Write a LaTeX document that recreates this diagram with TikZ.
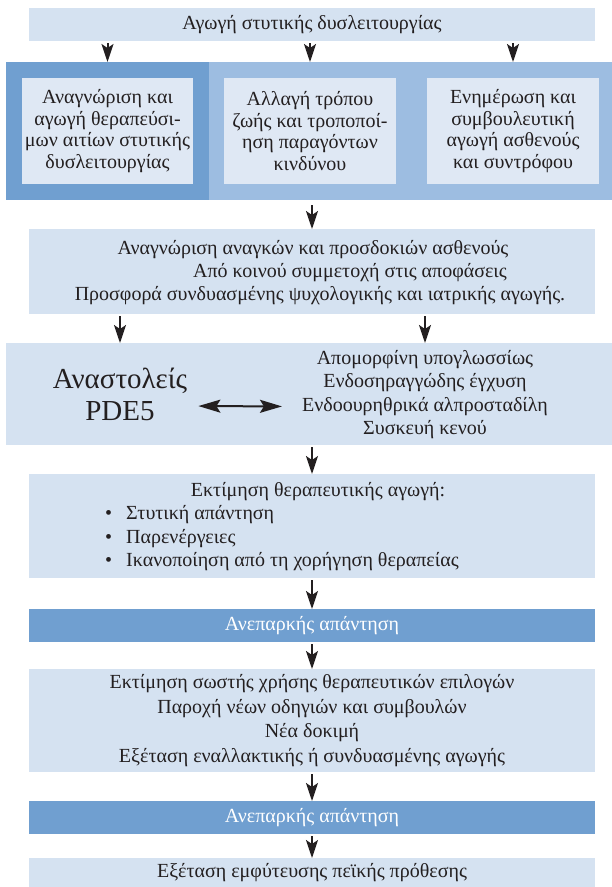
\documentclass[tikz,border=0pt]{standalone}
\usepackage{fontspec}
\setmainfont{Liberation Serif}
\usetikzlibrary{arrows.meta,calc}
\definecolor{lightbox}{HTML}{D5E2F1}
\definecolor{innerbox}{HTML}{DFE8F4}
\definecolor{darkbar}{HTML}{709FD0}
\definecolor{midbar}{HTML}{9DBDE1}
\definecolor{ink}{HTML}{231F20}
\newcommand{\bul}{\makebox[21pt][l]{•}}
\begin{document}
\begin{tikzpicture}[x=1pt,y=-1pt,
  panel/.style={draw=none, inner sep=0pt, outer sep=0pt, anchor=north west},
  lightpanel/.style={panel, fill=lightbox},
  txt/.style={text=ink, font=\fontsize{20}{23.3}\selectfont, align=center, inner sep=0pt},
  bigtxt/.style={text=ink, font=\fontsize{29}{32}\selectfont, align=center, inner sep=0pt},
  arr/.style={draw=ink, line width=2pt, shorten <=2pt, -{Stealth[length=18pt,width=12pt,inset=4pt]}},
  dbl/.style={draw=ink, line width=2pt, {Stealth[length=22pt,width=13pt,inset=4pt]}-{Stealth[length=22pt,width=13pt,inset=4pt]}},
]
\useasboundingbox (0,0) rectangle (612,887);
\fill[white] (0,0) rectangle (612,887);

% top box
\node[lightpanel, txt, minimum width=566pt, minimum height=33pt] (top) at (29,8) {Αγωγή στυτικής δυσλειτουργίας};

% band
\node[panel, fill=darkbar, minimum width=203pt, minimum height=138pt] (bandL) at (6,62) {};
\node[panel, fill=midbar, minimum width=403pt, minimum height=138pt] (bandR) at (209,62) {};
\node[panel, fill=innerbox, txt, font=\fontsize{20}{21.7}\selectfont, minimum width=171pt, minimum height=106pt] (b1) at (22,78)
  {Αναγνώριση και\\αγωγή θεραπεύσι-\\μων αιτίων στυτικής\\δυσλειτουργίας};
\node[panel, fill=innerbox, txt, font=\fontsize{20}{21.7}\selectfont, minimum width=172pt, minimum height=106pt] (b2) at (224,78)
  {Αλλαγή τρόπου\\ζωής και τροποποί-\\ηση παραγόντων\\κινδύνου};
\node[panel, fill=innerbox, txt, font=\fontsize{20}{21.7}\selectfont, minimum width=172pt, minimum height=106pt] (b3) at (427,78)
  {Ενημέρωση και\\συμβουλευτική\\αγωγή ασθενούς\\και συντρόφου};

\draw[arr] (top.south -| b1.north) -- (bandL.north -| b1.north);
\draw[arr] (top.south -| b2.north) -- (bandR.north -| b2.north);
\draw[arr] (top.south -| b3.north) -- (bandR.north -| b3.north);

% needs box
\node[lightpanel, minimum width=566pt, minimum height=85pt] (n) at (29,229) {};
\node[txt] (n1) at (313,249.3) {Αναγνώριση αναγκών και προσδοκιών ασθενούς};
\node[txt] (n2) at (350,272.7) {Από κοινού συμμετοχή στις αποφάσεις};
\node[txt] (n3) at (320,296) {Προσφορά συνδυασμένης ψυχολογικής και ιατρικής αγωγής.};
\draw[arr, shorten <=5pt] (bandR.south -| n.north) -- (n.north);

% PDE5 box
\node[lightpanel, minimum width=606pt, minimum height=102pt] (pde) at (6,343) {};
\node[bigtxt] (inh) at (120,394) {Αναστολείς\\PDE5};
\node[txt] (alt) at (425,394.5) {Απομορφίνη υπογλωσσίως\\Ενδοσηραγγώδης έγχυση\\Ενδοουρηθρικά αλπροσταδίλη\\Συσκευή κενού};
\draw[arr] (n.south -| inh) -- (pde.north -| inh);
\draw[arr] (n.south -| alt) -- (pde.north -| alt);
\draw[dbl, shorten <=11pt, shorten >=20pt] ($(inh.east)+(0,12)$) -- ($(alt.west)+(0,12)$);

% evaluation box
\node[lightpanel, minimum width=566pt, minimum height=104pt] (ev) at (29,474) {};
\node[txt] (evt) at (318,491.7) {Εκτίμηση θεραπευτικής αγωγή:};
\node[txt, align=left, anchor=west] (evl) at (105,538.3)
  {\bul Στυτική απάντηση\\\bul Παρενέργειες\\\bul Ικανοποίηση από τη χορήγηση θεραπείας};
\draw[arr] (pde.south -| ev.north) -- (ev.north);

% insufficient response 1
\node[panel, fill=darkbar, txt, text=white, minimum width=566pt, minimum height=33pt] (bar1) at (29,609) {Ανεπαρκής απάντηση};
\draw[arr] (ev.south) -- (bar1.north);

% re-evaluation box
\node[lightpanel, txt, font=\fontsize{20}{24.6}\selectfont, minimum width=566pt, minimum height=103pt] (re) at (29,669)
  {Εκτίμηση σωστής χρήσης θεραπευτικών επιλογών\\Παροχή νέων οδηγιών και συμβουλών\\Νέα δοκιμή\\Εξέταση εναλλακτικής ή συνδυασμένης αγωγής};
\draw[arr] (bar1.south) -- (re.north);

% insufficient response 2
\node[panel, fill=darkbar, txt, text=white, minimum width=566pt, minimum height=33pt] (bar2) at (29,801) {Ανεπαρκής απάντηση};
\draw[arr] (re.south) -- (bar2.north);

% final box
\node[lightpanel, txt, minimum width=566pt, minimum height=29pt] (fin) at (29,858) {Εξέταση εμφύτευσης πεϊκής πρόθεσης};
\draw[arr] (bar2.south) -- (fin.north);
\end{tikzpicture}
\end{document}
